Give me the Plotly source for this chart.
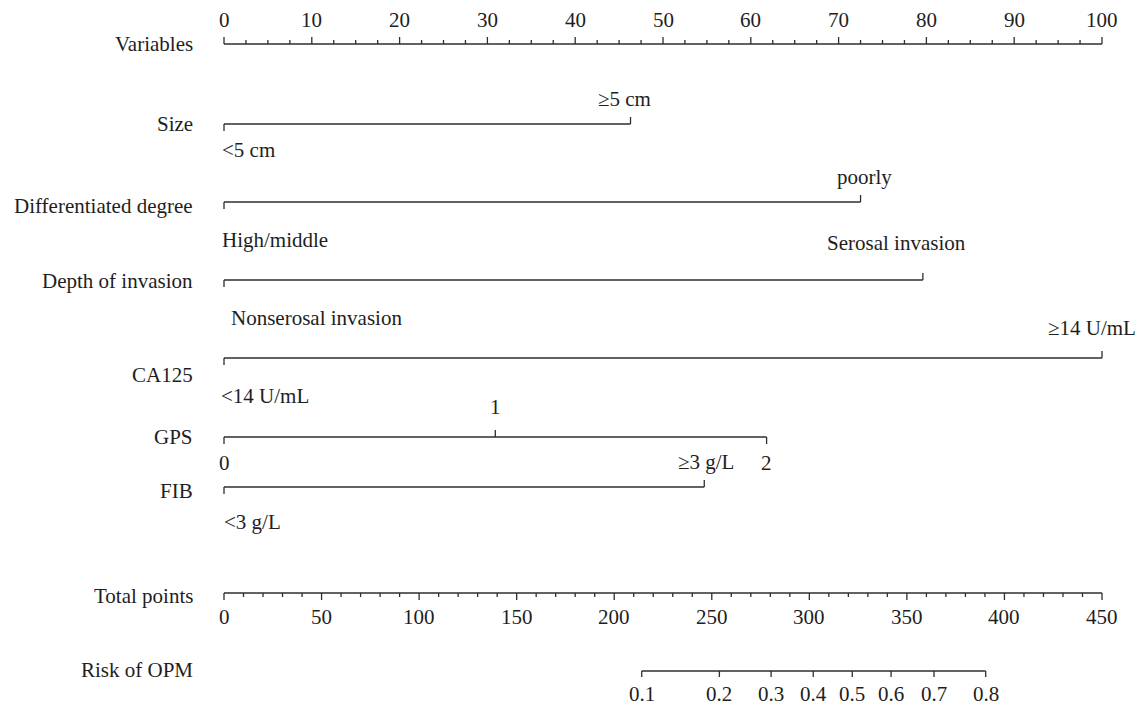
import plotly.graph_objects as go

# ---------------- data ----------------
points_max = 100
points_major = list(range(0, 101, 10))
points_minor_step = 2.5

size_levels = ["<5 cm", "≥5 cm"]
size_points = [0, 46.3]

diff_levels = ["High/middle", "poorly"]
diff_points = [0, 72.5]

depth_levels = ["Nonserosal invasion", "Serosal invasion"]
depth_points = [0, 79.6]

ca125_levels = ["<14 U/mL", "≥14 U/mL"]
ca125_points = [0, 100]

gps_levels = ["0", "1", "2"]
gps_points = [0, 30.9, 61.8]

fib_levels = ["<3 g/L", "≥3 g/L"]
fib_points = [0, 54.7]

total_max = 450
total_major = list(range(0, 451, 50))
total_minor_step = 10

risk_labels = ["0.1", "0.2", "0.3", "0.4", "0.5", "0.6", "0.7", "0.8"]
risk_total_points = [214.1, 253.9, 280.4, 302.0, 322.0, 341.9, 363.9, 390.4]

# ---------------- style / layout ----------------
W, H = 1137, 705
LEFT_PX, RIGHT_PX = 224, 1102
pxper = (RIGHT_PX - LEFT_PX) / points_max
x0 = -LEFT_PX / pxper
x1 = (W - LEFT_PX) / pxper
LINE = "#2e2e2e"
TXT = "#1e1e1e"
FONT = "Liberation Serif"
FS = 21
TICK = 7

def tp(v):
    return v * points_max / total_max

fig = go.Figure()
ann = []

def add_line(xs, ys):
    fig.add_trace(go.Scatter(x=xs, y=ys, mode="lines", line=dict(color=LINE, width=1.3),
                             hoverinfo="skip", showlegend=False))

def label(text, x, y, xanchor="center", xshift=0):
    ann.append(dict(x=x, y=y, text=text, showarrow=False, xanchor=xanchor, yanchor="middle",
                    xshift=xshift, font=dict(family=FONT, size=FS, color=TXT)))

def row_label(text, y):
    ann.append(dict(x=0, y=y, text=text, showarrow=False, xanchor="right", yanchor="middle",
                    xshift=-29, font=dict(family=FONT, size=FS, color=TXT)))

# Variables (Points) axis
yv = 44
row_label("Variables", yv)
add_line([0, points_max], [yv, yv])
tx, ty = [], []
v = 0.0
while v <= points_max + 1e-9:
    major = abs(v - round(v / 10) * 10) < 1e-9
    tx += [v, v, None]
    ty += [yv, yv - (7 if major else 4), None]
    v += points_minor_step
add_line(tx, ty)
for m in points_major:
    label(str(m), m, 20)

# Variable rows
rows = [
    ("Size", size_levels, size_points, 124, [1, -1], [150, 99], [(-4, "left"), (-6, "center")]),
    ("Differentiated degree", diff_levels, diff_points, 202, [1, -1], [240, 177], [(-4, "left"), (4, "center")]),
    ("Depth of invasion", depth_levels, depth_points, 280, [1, -1], [318, 243], [(5, "left"), (-26, "center")]),
    ("CA125", ca125_levels, ca125_points, 358, [1, -1], [396, 328], [(-5, "left"), (-10, "center")]),
    ("GPS", gps_levels, gps_points, 437, [1, -1, 1], [463, 407, 463], [(0, "center"), (0, "center"), (0, "center")]),
    ("FIB", fib_levels, fib_points, 487, [1, -1], [522, 462], [(-2, "left"), (2, "center")]),
]
row_label_y = {"Size": 124, "Differentiated degree": 206, "Depth of invasion": 281,
               "CA125": 375, "GPS": 437, "FIB": 491}
for name, levels, pts, y, dirs, ly, anchors in rows:
    row_label(name, row_label_y[name])
    add_line([min(pts), max(pts)], [y, y])
    tx, ty = [], []
    for p, d in zip(pts, dirs):
        tx += [p, p, None]
        ty += [y, y + d * TICK, None]
    add_line(tx, ty)
    for lev, p, yy, (xs, xa) in zip(levels, pts, ly, anchors):
        label(lev, p, yy, xanchor=xa, xshift=xs)

# Total points axis
yt = 593
row_label("Total points", 596)
add_line([tp(0), tp(total_max)], [yt, yt])
tx, ty = [], []
v = 0
while v <= total_max:
    major = v % 50 == 0
    tx += [tp(v), tp(v), None]
    ty += [yt, yt + (7 if major else 4), None]
    v += total_minor_step
add_line(tx, ty)
for m in total_major:
    label(str(m), tp(m), 617)

# Risk axis
yr = 671
row_label("Risk of OPM", 670)
rx = [tp(v) for v in risk_total_points]
add_line([min(rx), max(rx)], [yr, yr])
tx, ty = [], []
for p in rx:
    tx += [p, p, None]
    ty += [yr, yr + 6, None]
add_line(tx, ty)
for lab, p in zip(risk_labels, rx):
    label(lab, p, 694)

fig.update_layout(
    width=W, height=H,
    margin=dict(l=0, r=0, t=0, b=0),
    paper_bgcolor="white", plot_bgcolor="white",
    xaxis=dict(range=[x0, x1], visible=False, fixedrange=True),
    yaxis=dict(range=[H, 0], visible=False, fixedrange=True),
    annotations=ann,
    showlegend=False,
)
fig.write_html("out.html", config={"displayModeBar": False},
               post_script="document.body.style.margin='0';document.body.style.overflow='hidden';")
